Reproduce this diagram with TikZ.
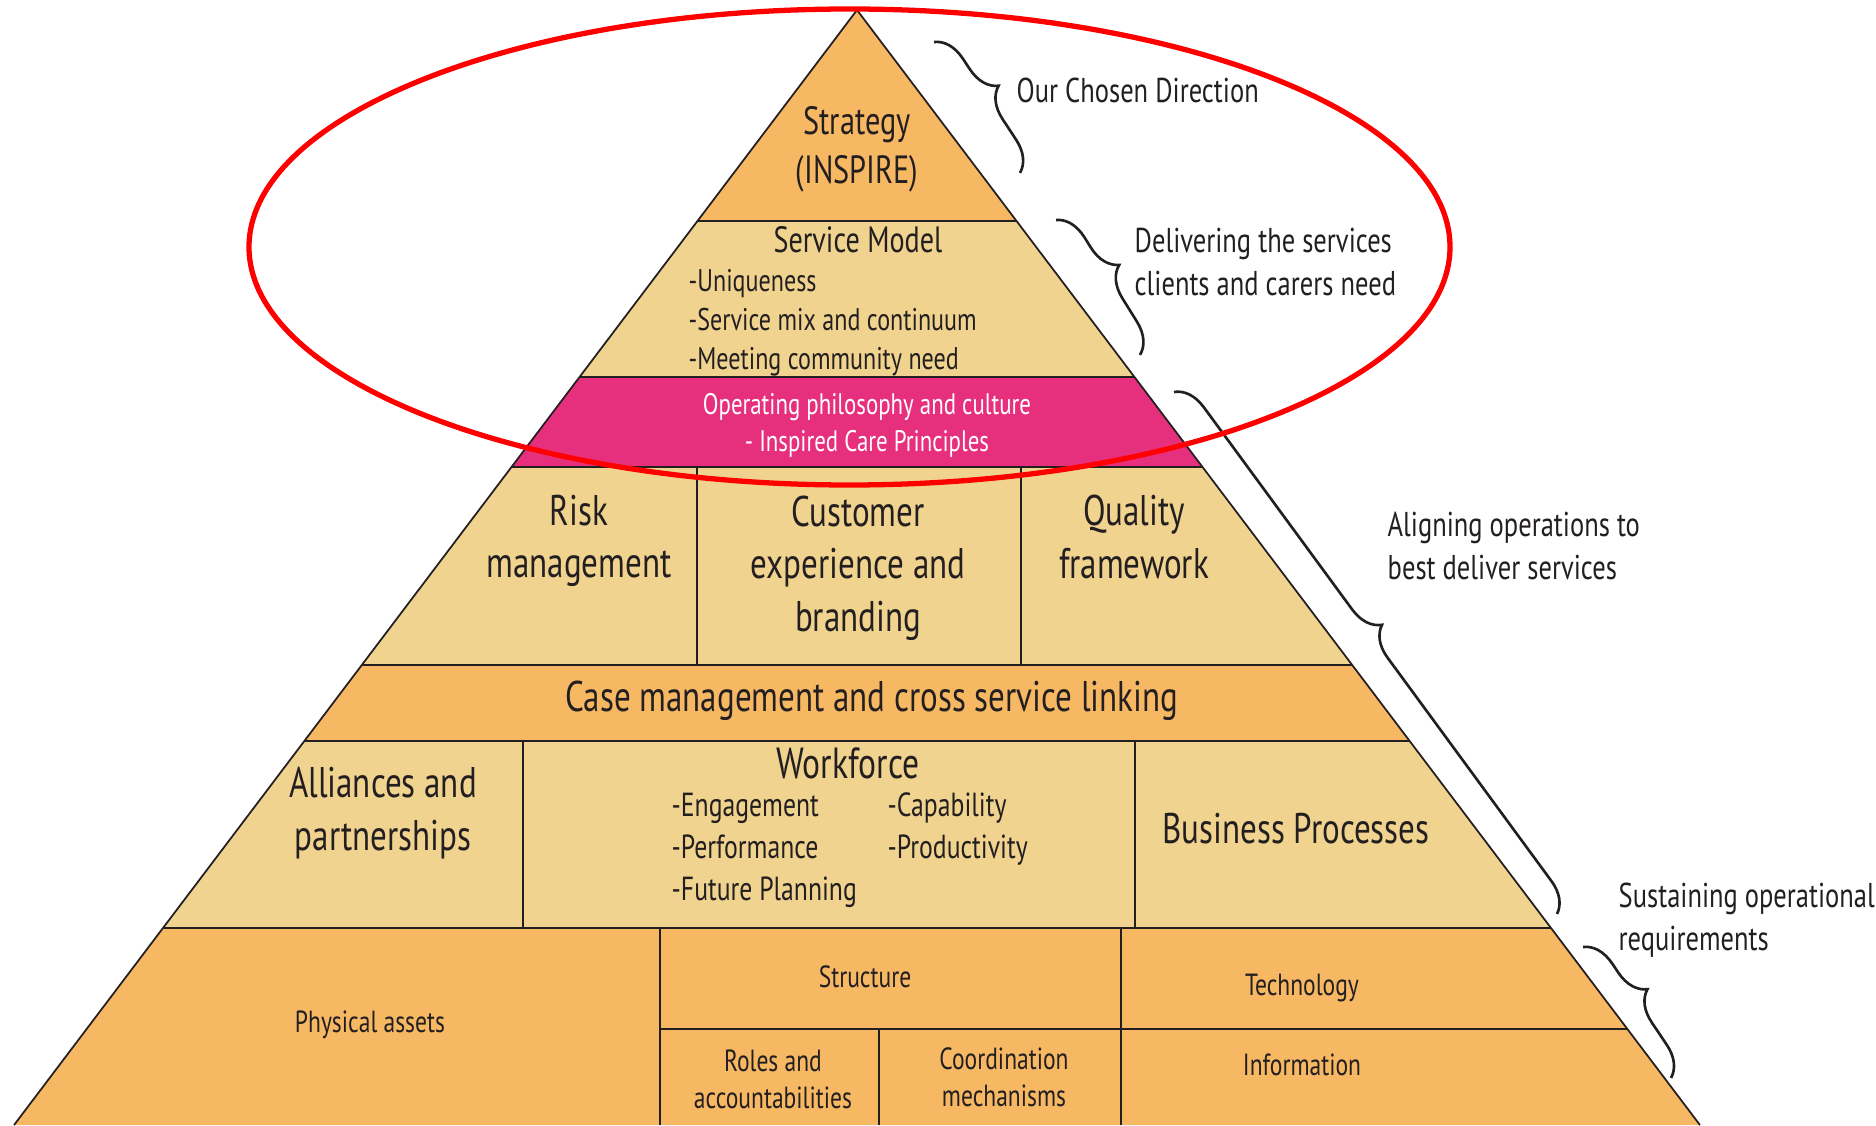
\documentclass[tikz,border=0pt]{standalone}
\usepackage{fontspec}
\setmainfont{PT Sans}[FakeStretch=0.77]
\usetikzlibrary{decorations.pathreplacing}

\definecolor{pyrorange}{RGB}{247,184,100}
\definecolor{pyrtan}{RGB}{240,211,143}
\definecolor{pyrpink}{RGB}{231,48,125}
\definecolor{ink}{RGB}{35,31,32}

\tikzset{
  % left and right slope of the pyramid at height y
  declare function={lx(\y)=8.57-0.756*(11.15-\y); rx(\y)=8.57+0.756*(11.15-\y);},
  edge/.style={draw=ink, line width=0.5pt},
  lbl/.style={text=ink, inner sep=0pt, align=center},
  huge/.style={lbl, font=\fontsize{12.2}{15}\selectfont},
  top/.style={lbl, font=\fontsize{11.2}{13.9}\selectfont},
  mid/.style={lbl, font=\fontsize{9.5}{12}\selectfont},
  small/.style={lbl, font=\fontsize{8.9}{11.1}\selectfont},
  tiny/.style={lbl, font=\fontsize{8.7}{10.5}\selectfont},
  side/.style={lbl, align=left, anchor=west, font=\fontsize{9.8}{12.2}\selectfont},
  bracket/.style={draw=ink, line width=0.75pt, decorate,
    decoration={brace, amplitude=0.3cm, aspect=#1}},
}

\begin{document}
\begin{tikzpicture}
  \useasboundingbox (0,0) rectangle (18.76,11.25);

  % bands, bottom to top
  \foreach \lo/\hi/\col in {0/1.97/pyrorange, 1.97/3.84/pyrtan, 3.84/4.60/pyrorange,
      4.60/6.58/pyrtan, 6.58/7.48/pyrpink, 7.48/9.04/pyrtan, 9.04/11.15/pyrorange}
    \fill[\col] ({lx(\lo)},\lo) -- ({rx(\lo)},\lo) -- ({rx(\hi)},\hi) -- ({lx(\hi)},\hi) -- cycle;

  \foreach \h in {1.97,3.84,4.60,6.58,7.48,9.04}
    \draw[edge] ({lx(\h)},\h) -- ({rx(\h)},\h);
  \draw[edge] (6.60,0.96) -- ({rx(0.96)},0.96);

  % cell walls
  \draw[edge] (6.97,4.60) -- (6.97,6.58);
  \draw[edge] (10.21,4.60) -- (10.21,6.58);
  \draw[edge] (5.23,1.97) -- (5.23,3.84);
  \draw[edge] (11.35,1.97) -- (11.35,3.84);
  \draw[edge] (6.60,0) -- (6.60,1.97);
  \draw[edge] (11.21,0) -- (11.21,1.97);
  \draw[edge] (8.79,0) -- (8.79,0.96);

  \draw[edge] ({lx(0)},0) -- (8.57,11.15) -- ({rx(0)},0);

  % labels inside the pyramid
  \node[top] (strat) at (8.57,9.76) {Strategy\\(INSPIRE)};
  \node[mid, font=\fontsize{10.4}{12}\selectfont] (svc) at (8.58,8.85) {Service Model};
  \node[small, align=left, anchor=west] (svclist) at (6.88,8.02)
    {-Uniqueness\\-Service mix and continuum\\-Meeting community need};
  \node[lbl, text=white, font=\fontsize{8.45}{10.5}\selectfont] (phil) at (8.67,7.0)
    {Operating philosophy and culture\\- Inspired Care Principles};
  \node[huge] (risk) at (5.79,5.84) {Risk\\management};
  \node[huge] (cust) at (8.58,5.57) {Customer\\experience and\\branding};
  \node[huge] (qual) at (11.34,5.88) {Quality\\framework};
  \node[huge] (casem) at (8.72,4.24) {Case management and cross service linking};
  \node[huge] (alli) at (3.83,3.12) {Alliances and\\partnerships};
  \node[top, font=\fontsize{12.4}{14}\selectfont] (work) at (8.48,3.62) {Workforce};
  \node[mid, align=left, anchor=west] (worka) at (6.71,2.745)
    {-Engagement\\-Performance\\-Future Planning};
  \node[mid, align=left, anchor=west] (workb) at (8.87,2.96)
    {-Capability\\-Productivity};
  \node[huge] (busi) at (12.96,2.96) {Business Processes};
  \node[tiny] (phys) at (3.70,1.00) {Physical assets};
  \node[tiny] (struc) at (8.65,1.48) {Structure};
  \node[tiny] (tech) at (13.02,1.37) {Technology};
  \node[tiny] (roles) at (7.73,0.455) {Roles and\\accountabilities};
  \node[tiny] (coord) at (10.04,0.48) {Coordination\\mechanisms};
  \node[tiny] (info) at (13.02,0.60) {Information};

  % braces and their captions
  \coordinate (b1s) at (9.34,10.83);  \coordinate (b1e) at (10.20,9.52);
  \coordinate (b2s) at (10.56,9.05);  \coordinate (b2e) at (11.40,7.70);
  \coordinate (b3s) at (11.74,7.33);  \coordinate (b3e) at (15.57,2.11);
  \coordinate (b4s) at (15.83,1.78);  \coordinate (b4e) at (16.71,0.47);
  \draw[bracket=0.46] (b1s) -- (b1e);
  \draw[bracket=0.45] (b2s) -- (b2e);
  \draw[bracket=0.48] (b3s) -- (b3e);
  \draw[bracket=0.45] (b4s) -- (b4e);

  \node[side] (dir) at (10.16,10.35) {Our Chosen Direction};
  \node[side] (deliv) at (11.34,8.63) {Delivering the services\\clients and carers need};
  \node[side] (align) at (13.87,5.79) {Aligning operations to\\best deliver services};
  \node[side] (sust) at (16.18,2.05) {Sustaining operational\\requirements};

  % highlight round the upper tiers
  \draw[red, line width=1.5pt] (8.495,8.78) ellipse [x radius=6.005, y radius=2.38];
\end{tikzpicture}
\end{document}
